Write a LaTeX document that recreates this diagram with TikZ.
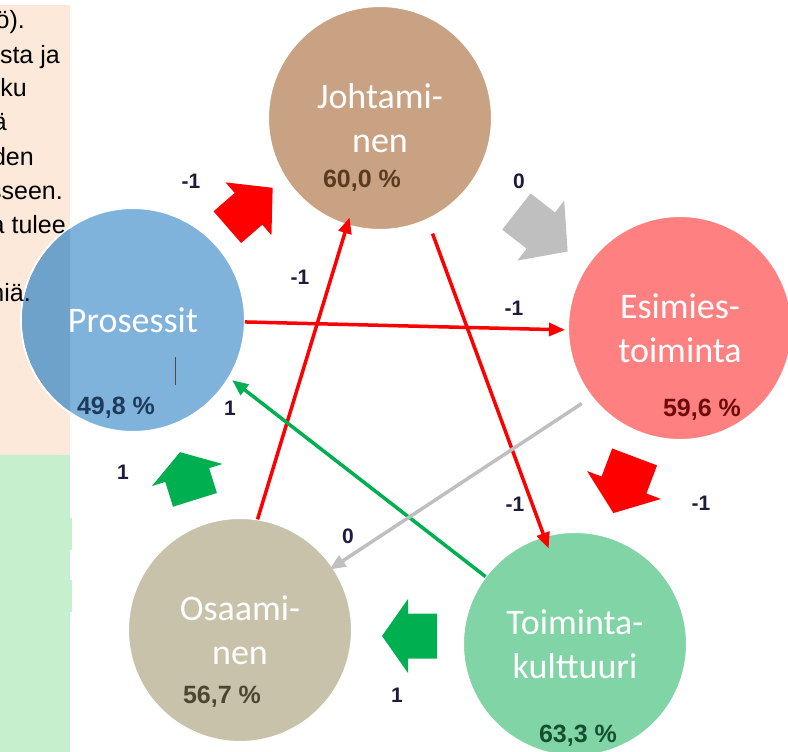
\documentclass[tikz,border=0pt]{standalone}
\usepackage{fontspec}
\setmainfont{Liberation Sans}
\newfontfamily\namefont{Carlito}
\usetikzlibrary{arrows.meta}
\definecolor{peach}{RGB}{253,233,217}
\definecolor{mint}{RGB}{198,239,206}
\definecolor{cJ}{RGB}{200,162,131}
\definecolor{cE}{RGB}{255,128,128}
\definecolor{cT}{RGB}{128,212,166}
\definecolor{cO}{RGB}{200,194,170}
\definecolor{cP}{RGB}{127,179,220}
\definecolor{cPdark}{RGB}{111,162,202}
\definecolor{pJ}{RGB}{92,58,30}
\definecolor{pE}{RGB}{110,10,10}
\definecolor{pT}{RGB}{18,80,46}
\definecolor{pO}{RGB}{74,70,50}
\definecolor{pP}{RGB}{30,58,92}
\definecolor{lblc}{RGB}{28,28,60}
\definecolor{ared}{RGB}{255,0,0}
\definecolor{agreen}{RGB}{0,176,80}
\definecolor{agrey}{RGB}{191,191,191}
\newcommand{\blockarr}[8]{%
  \fill[#8,shift={(#1,#2)},rotate=#3]
    ({-#4/2*1pt},{-#7/2*1pt}) -- ({(#4/2-#5)*1pt},{-#7/2*1pt}) --
    ({(#4/2-#5)*1pt},{-#6/2*1pt}) -- ({#4/2*1pt},0pt) --
    ({(#4/2-#5)*1pt},{#6/2*1pt}) -- ({(#4/2-#5)*1pt},{#7/2*1pt}) --
    ({-#4/2*1pt},{#7/2*1pt}) -- cycle;}
\begin{document}
\begin{tikzpicture}[x=1pt,y=-1pt,
  circ/.style={circle, draw=white, line width=2pt, minimum size=224pt,
    inner sep=0pt, outer sep=0pt, text=white, align=center,
    font=\namefont\fontsize{36}{44}\selectfont},
  pct/.style={font=\bfseries\fontsize{25}{25}\selectfont, inner sep=0pt},
  lbl/.style={font=\bfseries\fontsize{21}{21}\selectfont, text=lblc, inner sep=0pt},
  conn/.style={line width=3.5pt, -{Triangle[length=16pt,width=13pt]}},
  ptext/.style={anchor=base east, font=\fontsize{25}{25}\selectfont, inner sep=0pt}
]
\useasboundingbox (0,0) rectangle (788,752);
% left panel
\fill[peach] (0,5) rectangle (70,455);
\fill[mint] (0,455) rectangle (70,752);
\fill[mint] (70,518) rectangle (72,550);
\fill[mint] (70,580) rectangle (72,612);

% circles
\node[circ, fill=cJ] (J) at (380,118) {Johtami-\\nen};
\node[circ, fill=cE] (E) at (680,328) {Esimies-\\toiminta};
\node[circ, fill=cT] (T) at (575,644) {Toiminta-\\kulttuuri};
\node[circ, fill=cO] (O) at (240,630) {Osaami-\\nen};
\node[circ, fill=cP] (P) at (133,320) {};
\begin{scope}
  \clip (0,5) rectangle (70,455);
  \fill[cPdark] (P.center) circle (111pt);
\end{scope}
\node[text=white, font=\namefont\fontsize{36}{44}\selectfont] (Pname) at (P.center) {Prosessit};
\draw[gray!60!black, line width=0.7pt] (175,357) -- (175,385);

% panel text
\node[ptext] (t0) at (25,29) {ö).};
\node[ptext] (t1) at (60,64) {sta ja};
\node[ptext] (t2) at (27,97) {ku};
\node[ptext] (t3) at (7,131) {ä};
\node[ptext] (t4) at (34,165) {den};
\node[ptext] (t5) at (63,199) {sseen.};
\node[ptext] (t6) at (66,233) {a tulee};
\node[ptext] (t8) at (31,301) {niä.};

% percentages
\node[pct, text=pJ] (pj) at (362,181) {60,0 \%};
\node[pct, text=pE] (pe) at (702,410) {59,6 \%};
\node[pct, text=pT] (pt) at (578,736) {63,3 \%};
\node[pct, text=pO] (po) at (222,697) {56,7 \%};
\node[pct, text=pP] (pp) at (116,408) {49,8 \%};

% block arrows
\blockarr{250}{207.5}{41}{60}{32}{70}{42}{ared}
\blockarr{542}{231.5}{-38}{65}{34}{76}{46}{agrey}
\blockarr{624}{485}{-110.7}{60}{30}{79}{48}{ared}
\blockarr{409.5}{636}{180}{55}{26}{74}{45}{agreen}
\blockarr{187.5}{476}{107.4}{50}{24}{74}{46}{agreen}

% connectors
\draw[conn, ared, shorten >=3pt] (P.-1.5) -- (E.181);
\draw[conn, ared, shorten <=15pt, shorten >=-13pt] (J.-65) -- (T.106);
\draw[conn, ared, shorten >=-8pt] (O.81) -- (J.-107);
\draw[conn, agreen, shorten >=4pt] (T.143) -- (P.-31);
\draw[conn, agrey, shorten <=12pt, shorten >=-4pt] (E.-142) -- (O.34.6);

% labels
\node[lbl] (la) at (191,181.5) {-1};
\node[lbl] (lb) at (519,181.5) {0};
\node[lbl] (lc) at (701,503.5) {-1};
\node[lbl] (ld) at (397,695) {1};
\node[lbl] (le) at (123,472) {1};
\node[lbl] (l1) at (514,308) {-1};
\node[lbl] (l2) at (515,504) {-1};
\node[lbl] (l3) at (300,277) {-1};
\node[lbl] (l4) at (230,408) {1};
\node[lbl] (l5) at (348,536) {0};
\end{tikzpicture}
\end{document}
